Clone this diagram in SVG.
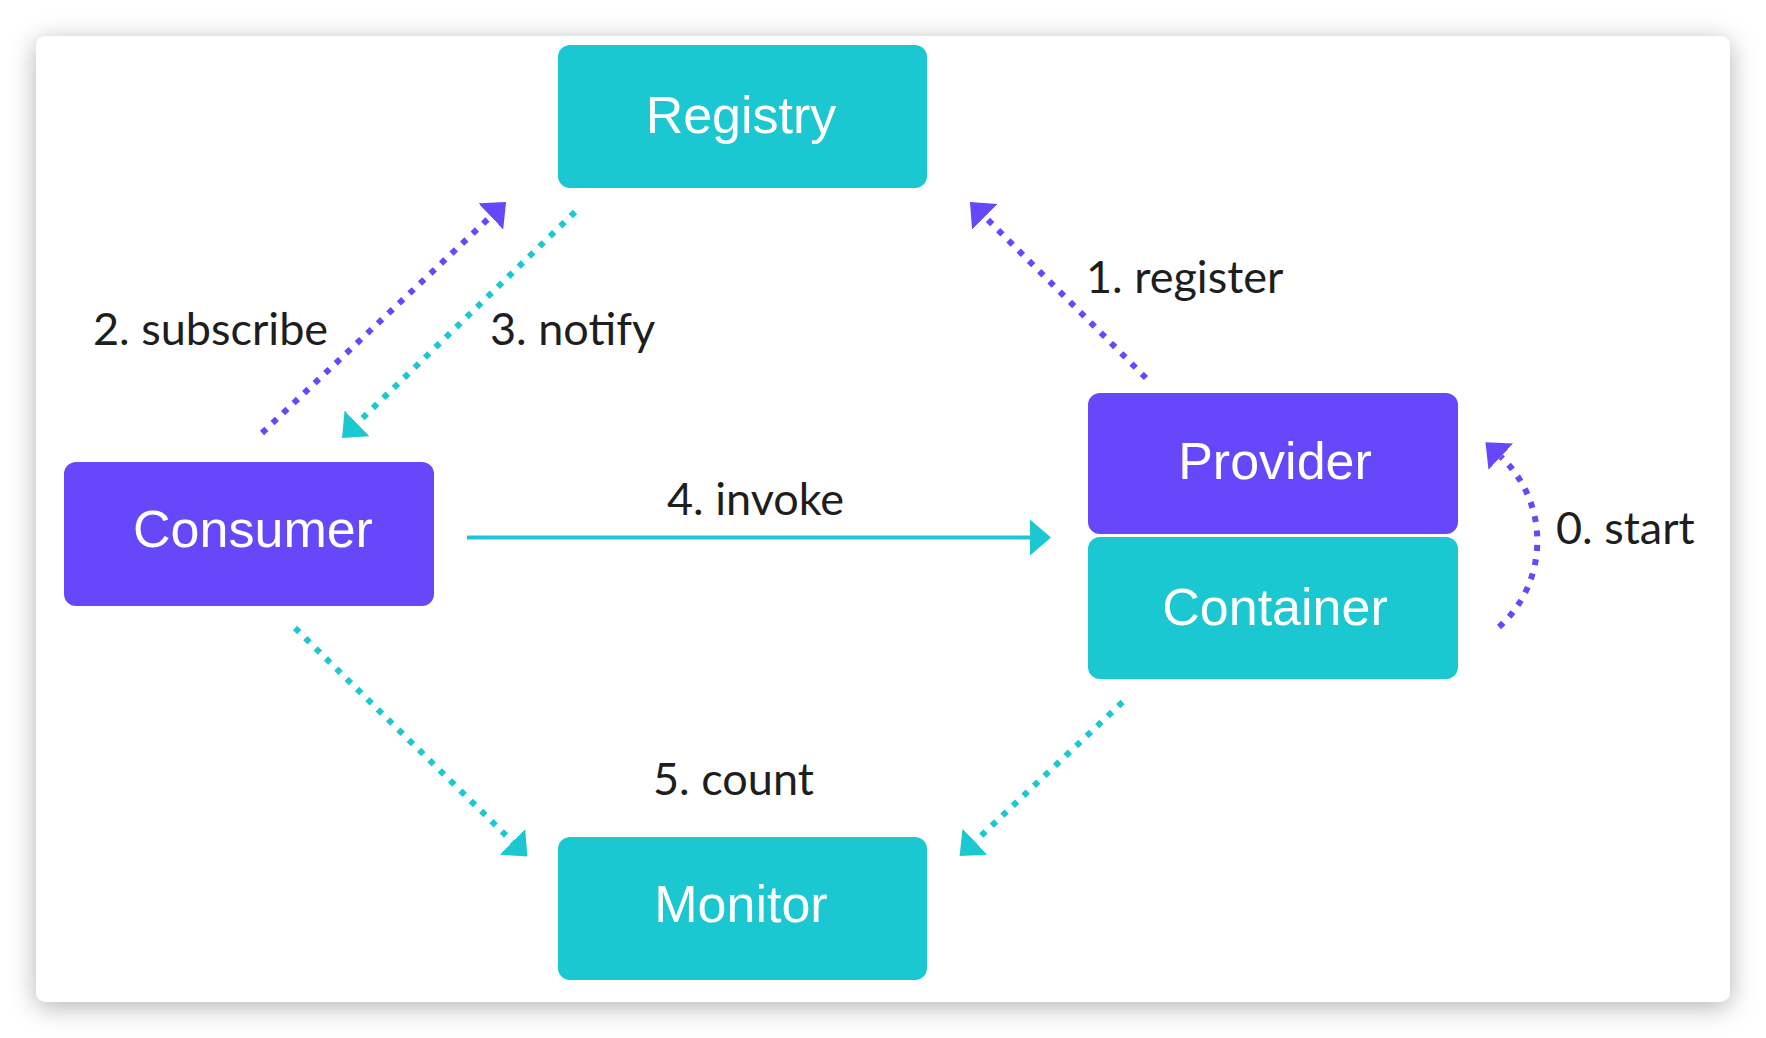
<svg xmlns="http://www.w3.org/2000/svg" width="1766" height="1038" viewBox="0 0 1766 1038">
  <style>
    .node-p { fill: #6747FA; }
    .node-c { fill: #1BC7D1; }
    .ntext { font-family: "Liberation Sans", Arial, sans-serif; font-size: 52px; fill: #FFFFFF; text-anchor: middle; }
    .label { font-family: Lato, "Noto Sans", sans-serif; font-size: 45px; fill: #1E1E1E; }
    .dot-p { fill: none; stroke: #6747FA; stroke-width: 6; stroke-dasharray: 6 8.5; }
    .dot-c { fill: none; stroke: #1BC7D1; stroke-width: 6; stroke-dasharray: 6 8.5; }
    .solid-c { fill: none; stroke: #1BC7D1; stroke-width: 4; }
  </style>
  <defs>
    <filter id="shadow" x="-10%" y="-10%" width="120%" height="125%">
      <feDropShadow dx="0" dy="5" stdDeviation="13" flood-color="#000000" flood-opacity="0.3"/>
    </filter>
    <marker id="arrow-p" viewBox="0 0 21 36" refX="0" refY="18" markerWidth="21" markerHeight="36" markerUnits="userSpaceOnUse" orient="auto">
      <path d="M0,0 L21,18 L0,36 Z" fill="#6747FA"/>
    </marker>
    <marker id="arrow-c" viewBox="0 0 21 36" refX="0" refY="18" markerWidth="21" markerHeight="36" markerUnits="userSpaceOnUse" orient="auto">
      <path d="M0,0 L21,18 L0,36 Z" fill="#1BC7D1"/>
    </marker>
  </defs>

  <rect x="0" y="0" width="1766" height="1038" fill="#FFFFFF"/>
  <rect id="card" x="36" y="36" width="1694" height="966" rx="10" fill="#FFFFFF" filter="url(#shadow)"/>

  <g id="connectors">
    <path id="e-subscribe" class="dot-p" d="M262,433 L490.8,216.4" marker-end="url(#arrow-p)"/>
    <path id="e-notify" class="dot-c" d="M575,212 L357.1,423.4" marker-end="url(#arrow-c)"/>
    <path id="e-register" class="dot-p" d="M1146,378 L984.8,216.8" marker-end="url(#arrow-p)"/>
    <path id="e-invoke" class="solid-c" d="M467,537.5 L1030,537.5" marker-end="url(#arrow-c)"/>
    <path id="e-count-consumer" class="dot-c" d="M295,628 L512.5,841.8" marker-end="url(#arrow-c)"/>
    <path id="e-count-provider" class="dot-c" d="M1122.6,702 L974.9,841.6" marker-end="url(#arrow-c)"/>
    <path id="e-start" class="dot-p" d="M1499,627 A115.6,115.6 0 0 0 1500.8,456.7" marker-end="url(#arrow-p)"/>
  </g>

  <g id="labels">
    <text class="label" x="93" y="345">2. subscribe</text>
    <text class="label" x="490" y="345">3. notify</text>
    <text class="label" x="1086" y="293">1. register</text>
    <text class="label" x="1556" y="544">0. start</text>
    <text class="label" x="667" y="515">4. invoke</text>
    <text class="label" x="653" y="795">5. count</text>
  </g>

  <g id="registry">
    <rect class="node-c" x="558" y="45" width="369" height="143" rx="12"/>
    <text class="ntext" x="741" y="133">Registry</text>
  </g>
  <g id="consumer">
    <rect class="node-p" x="64" y="462" width="370" height="144" rx="12"/>
    <text class="ntext" x="253" y="547">Consumer</text>
  </g>
  <g id="provider">
    <rect class="node-p" x="1088" y="393" width="370" height="141" rx="12"/>
    <text class="ntext" x="1275" y="479">Provider</text>
  </g>
  <g id="container">
    <rect class="node-c" x="1088" y="537" width="370" height="142" rx="12"/>
    <text class="ntext" x="1275" y="625">Container</text>
  </g>
  <g id="monitor">
    <rect class="node-c" x="558" y="837" width="369" height="143" rx="12"/>
    <text class="ntext" x="741" y="922">Monitor</text>
  </g>
</svg>
